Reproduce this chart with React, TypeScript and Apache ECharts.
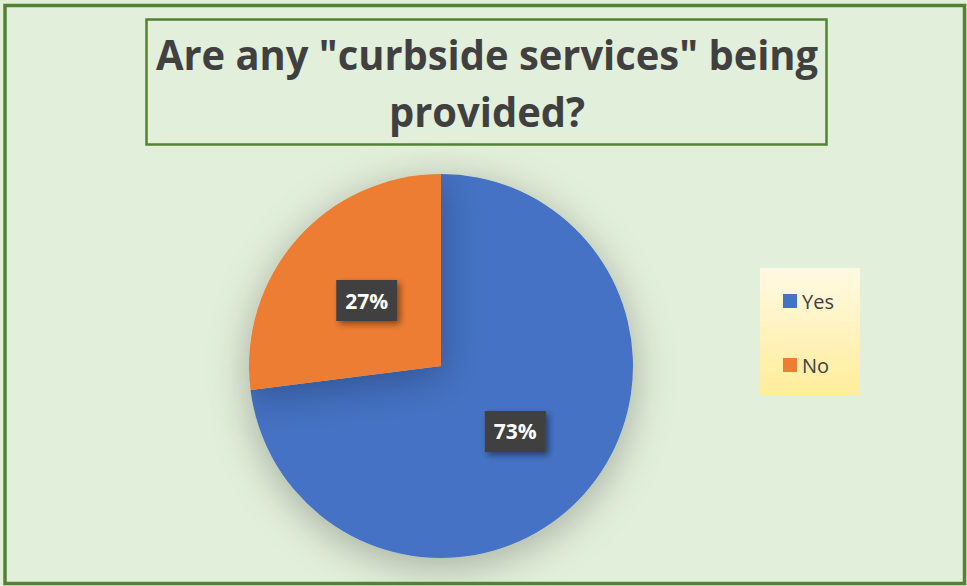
import React, { useEffect, useRef } from "react";
import * as echarts from "echarts";

const titleLines = ['Are any "curbside services" being', "provided?"];
const categories = ["Yes", "No"];
const values = [73, 27];
const colors = ["#4472C4", "#ED7D31"];

export default function App() {
  const ref = useRef<HTMLDivElement>(null);
  useEffect(() => {
    if (!ref.current) return;
    const chart = echarts.init(ref.current, undefined, { renderer: "svg" });
    const data = categories.map((c, i) => ({ name: c, value: values[i], itemStyle: { color: colors[i] } }));
    const titleStyle = {
      font: "bold 42px 'Open Sans', sans-serif",
      fill: "#404040",
      align: "center",
      verticalAlign: "middle",
    };
    chart.setOption({
      animation: false,
      backgroundColor: "#E2EFDA",
      graphic: [
        {
          type: "rect",
          shape: { x: 5, y: 5.5, width: 959.5, height: 578 },
          style: { fill: "none", stroke: "#548235", lineWidth: 3.5 },
          z: 100,
        },
        {
          type: "rect",
          shape: { x: 146.5, y: 19.5, width: 680, height: 125 },
          style: { fill: "none", stroke: "#548235", lineWidth: 2.5 },
          z: 100,
        },
        {
          type: "text",
          x: 487,
          y: 54,
          scaleX: 0.95,
          style: { ...titleStyle, text: titleLines[0] },
          z: 100,
        },
        {
          type: "text",
          x: 487,
          y: 111,
          scaleX: 0.95,
          style: { ...titleStyle, text: titleLines[1] },
          z: 100,
        },
        {
          type: "rect",
          shape: { x: 760, y: 268, width: 100, height: 127 },
          style: {
            fill: new echarts.graphic.LinearGradient(0, 0, 0, 1, [
              { offset: 0, color: "#FFF9E3" },
              { offset: 1, color: "#FFED9A" },
            ]),
          },
          z: 0,
        },
      ],
      legend: {
        orient: "vertical",
        left: 778,
        top: 286,
        itemGap: 44,
        itemWidth: 14,
        itemHeight: 14,
        icon: "rect",
        textStyle: { color: "#404040", fontSize: 20, fontFamily: "'Open Sans', sans-serif" },
        data: categories,
        z: 10,
      },
      series: [
        {
          type: "pie",
          center: [441, 366],
          radius: 192,
          startAngle: 90,
          clockwise: true,
          data,
          itemStyle: {
            shadowColor: "rgba(0,0,0,0.28)",
            shadowBlur: 40,
            shadowOffsetY: 8,
          },
          label: {
            show: true,
            position: "inside",
            formatter: "{d}%",
            color: "#FFFFFF",
            fontWeight: "bold",
            fontSize: 21,
            fontFamily: "'Open Sans', sans-serif",
            backgroundColor: "#404040",
            padding: [10, 9, 10, 9],
            shadowColor: "rgba(0,0,0,0.45)",
            shadowBlur: 6,
            shadowOffsetX: 3,
            shadowOffsetY: 3,
          },
          labelLine: { show: false },
          emphasis: { disabled: true },
        },
      ],
    });
    return () => chart.dispose();
  }, []);
  return <div ref={ref} style={{ position: "absolute", left: 0, top: 0, width: 967, height: 586 }} />;
}
